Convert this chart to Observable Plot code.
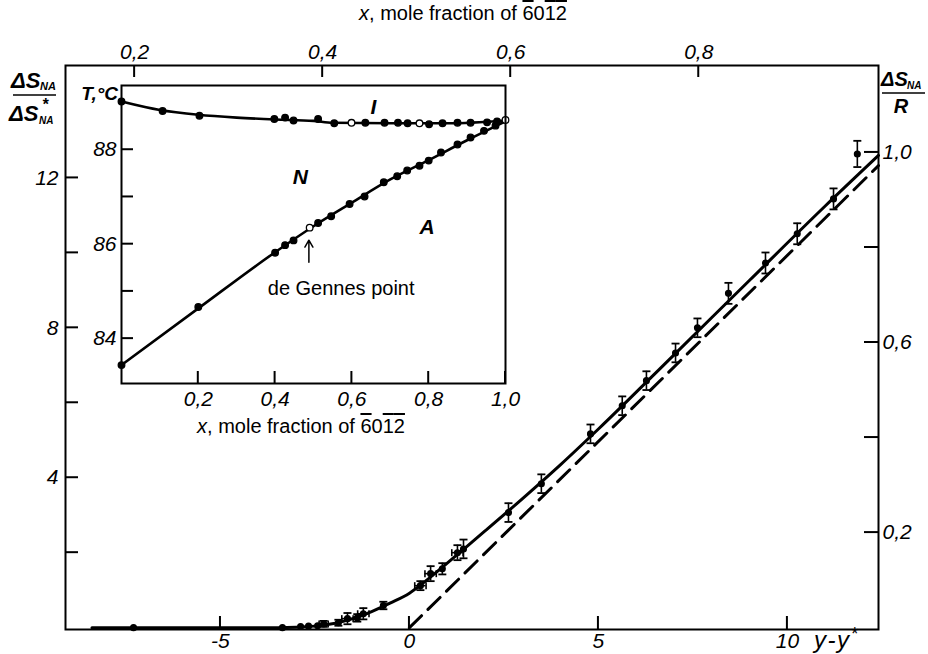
<!DOCTYPE html>
<html>
<head>
<meta charset="utf-8">
<script src="https://cdn.jsdelivr.net/npm/d3@7"></script>
<script src="https://cdn.jsdelivr.net/npm/@observablehq/plot@0.6"></script>
<style>
  body { margin: 0; background: white; }
  #wrap { position: relative; width: 928px; height: 654px; overflow: hidden; background: white; }
  #inset { position: absolute; left: 96px; top: 78px; }
</style>
</head>
<body>
<div id="wrap"><div id="main"></div><div id="inset"></div></div>
<script>
// ---------- Main chart data ----------
const bottomTicks = [-5, 0, 5, 10];
const leftTicks = [2, 4, 6, 8, 10, 12];
const leftLabels = [4, 8, 12];
const topTicks = [0.2, 0.4, 0.6, 0.8];          // mole fraction (top axis)
const rightTicks = [0.2, 0.4, 0.6, 0.8, 1.0];   // ΔS_NA / R
const rightLabels = [0.2, 0.6, 1.0];
// axis conversions
const moleAtZero = 0.4923, molePerUnit = 0.0402;  // x = moleAtZero + molePerUnit*(y-y*)
const rightFactor = 12.68;                         // ΔS/ΔS* per unit ΔS/R

// measured points (y - y*, ΔS/ΔS*), with vertical and horizontal error bars
const ptX = [-7.3, -3.36, -2.88, -2.67, -2.43, -2.27, -1.88, -1.64, -1.38, -1.22, -0.69, 0.29, 0.56, 0.87, 1.27, 1.43, 2.62, 3.49, 4.79, 5.63, 6.27, 7.04, 7.62, 8.44, 9.42, 10.26, 11.22, 11.85];
const ptY = [0, 0.0, 0.03, 0.04, 0.05, 0.1, 0.13, 0.24, 0.26, 0.37, 0.59, 1.12, 1.44, 1.57, 2.0, 2.1, 3.07, 3.84, 5.17, 5.92, 6.59, 7.33, 8.0, 8.92, 9.73, 10.51, 11.44, 12.64];
const ptErr = [0, 0, 0, 0, 0, 0.08, 0.08, 0.15, 0.1, 0.15, 0.1, 0.12, 0.2, 0.15, 0.2, 0.25, 0.25, 0.25, 0.25, 0.25, 0.25, 0.25, 0.25, 0.28, 0.28, 0.28, 0.28, 0.35];
const ptHErr = [0, 0, 0, 0, 0, 0.12, 0, 0.15, 0, 0.15, 0, 0.15, 0.15, 0, 0.15, 0, 0, 0, 0, 0, 0, 0, 0, 0, 0, 0, 0, 0];

// fitted solid curve
const curveX = [-8.4, -3.5, -2.5, -2.0, -1.5, -1.0, -0.5, 0, 0.5, 1.0, 1.5, 2.0, 3.0, 4.0, 5.0, 7.0, 9.0, 11.0, 12.41];
const curveY = [0, 0, 0.04, 0.11, 0.24, 0.43, 0.66, 0.92, 1.3, 1.72, 2.15, 2.58, 3.45, 4.35, 5.3, 7.28, 9.27, 11.25, 12.6];
// dashed asymptote
const dashX = [0, 12.41];
const dashY = [0, 12.33];

// ---------- Inset data (phase diagram) ----------
const insetXTicks = [0.2, 0.4, 0.6, 0.8, 1.0];
const insetYTicks = [84, 85, 86, 87, 88];
const insetYLabels = [84, 86, 88];
// N–I transition points
const niX = [0, 0.107, 0.203, 0.398, 0.426, 0.448, 0.512, 0.554, 0.599, 0.635, 0.685, 0.72, 0.745, 0.776, 0.801, 0.836, 0.875, 0.909, 0.952, 0.978, 1.0];
const niT = [89.02, 88.82, 88.72, 88.65, 88.68, 88.62, 88.65, 88.56, 88.57, 88.57, 88.57, 88.57, 88.56, 88.56, 88.54, 88.56, 88.57, 88.57, 88.58, 88.6, 88.63];
const niOpen = [false, false, false, false, false, false, false, false, true, false, false, false, false, true, false, false, false, false, false, false, true];
const niCurveX = [0, 0.1, 0.2, 0.3, 0.4, 0.5, 0.55, 0.7, 0.85, 1.0];
const niCurveT = [89.02, 88.84, 88.74, 88.68, 88.64, 88.61, 88.57, 88.56, 88.56, 88.62];
// N–A transition points
const naX = [0, 0.2, 0.4, 0.426, 0.448, 0.49, 0.512, 0.546, 0.594, 0.633, 0.683, 0.718, 0.744, 0.776, 0.80, 0.832, 0.875, 0.909, 0.944, 0.974];
const naT = [83.44, 84.67, 85.82, 85.98, 86.08, 86.35, 86.45, 86.59, 86.85, 87.01, 87.31, 87.44, 87.56, 87.66, 87.77, 87.94, 88.11, 88.26, 88.4, 88.51];
const naOpen = naX.map(x => x === 0.49);
const naCurveX = [0, 0.2, 0.4, 0.5, 0.6, 0.7, 0.8, 0.9, 1.0];
const naCurveT = [83.44, 84.64, 85.83, 86.38, 86.88, 87.37, 87.78, 88.2, 88.6];
// phase labels
const phaseText = ["I", "N", "A"];
const phaseX = [0.656, 0.466, 0.796];
const phaseT = [88.9, 87.41, 86.36];
// de Gennes annotation
const dgText = "de Gennes point";
const dgTextX = 0.572, dgTextT = 85.07;
const dgArrowX = 0.488, dgArrowT1 = 85.62, dgArrowT2 = 86.17;

// ---------- helpers ----------
const comma = d => d3.format(".1f")(d).replace(".", ",");
const capH = { draw(ctx) { ctx.moveTo(-4, 0); ctx.lineTo(4, 0); } };
const capV = { draw(ctx) { ctx.moveTo(0, -3.5); ctx.lineTo(0, 3.5); } };
const numFont = "'Liberation Sans Narrow', 'Liberation Sans', sans-serif";
const textFont = "'Liberation Sans', Arial, sans-serif";

// inward ticks drawn through the plot's own scales
function xTicks(plotSvg, vals, yEdge, len) {
  const sx = plotSvg.scale("x");
  const gg = d3.select(plotSvg).append("g");
  vals.forEach(v => {
    const px = sx.apply(v);
    gg.append("path").attr("d", `M${px},${yEdge}V${yEdge + len}`)
      .attr("stroke", "black").attr("stroke-width", 2).attr("fill", "none");
  });
}
function yTicks(plotSvg, vals, xEdge, len) {
  const sy = plotSvg.scale("y");
  const gg = d3.select(plotSvg).append("g");
  vals.forEach(v => {
    const py = sy.apply(v);
    gg.append("path").attr("d", `M${xEdge},${py}H${xEdge + len}`)
      .attr("stroke", "black").attr("stroke-width", 2).attr("fill", "none");
  });
}

const pts = ptX.map((x, i) => ({x, y: ptY[i], e: ptErr[i], h: ptHErr[i]}));
const vErr = pts.filter(d => d.e > 0);
const hErr = pts.filter(d => d.h > 0);
const curve = curveX.map((x, i) => ({x, y: curveY[i]}));
const dash = dashX.map((x, i) => ({x, y: dashY[i]}));
const toMain = f => (f - moleAtZero) / molePerUnit;
const toMole = v => moleAtZero + molePerUnit * v;

const W = 928, H = 654, mL = 65, mR = 50, mT = 65, mB = 25;

const main = Plot.plot({
  width: W, height: H,
  marginLeft: mL, marginRight: mR, marginTop: mT, marginBottom: mB,
  x: {domain: [-9.1, 12.41]},
  y: {domain: [-0.05, 15]},
  style: {fontFamily: numFont, fontStyle: "italic", fontSize: "21px", background: "white", color: "black"},
  marks: [
    Plot.axisX(bottomTicks, {anchor: "bottom", tickSize: 0, tickPadding: 4, tickFormat: d => d < 0 ? "-" + Math.abs(d) : String(d), label: null}),
    Plot.axisX(topTicks.map(toMain), {anchor: "top", tickSize: 0, tickPadding: 7, tickFormat: d => comma(toMole(d)), label: null}),
    Plot.axisY(leftLabels, {anchor: "left", tickSize: 0, tickPadding: 7, tickFormat: d => String(d), label: null}),
    Plot.axisY(rightLabels.map(v => v * rightFactor), {anchor: "right", tickSize: 0, tickPadding: 4, tickFormat: d => comma(d / rightFactor), label: null}),
    Plot.line(dash, {x: "x", y: "y", stroke: "black", strokeWidth: 3, strokeDasharray: "17,9"}),
    Plot.line(curve, {x: "x", y: "y", stroke: "black", strokeWidth: 3, curve: "monotone-x"}),
    Plot.ruleX(vErr, {x: "x", y1: d => d.y - d.e, y2: d => d.y + d.e, stroke: "black", strokeWidth: 1.6}),
    Plot.dot(vErr, {x: "x", y: d => d.y + d.e, symbol: capH, stroke: "black", strokeWidth: 1.8, fill: "none"}),
    Plot.dot(vErr, {x: "x", y: d => d.y - d.e, symbol: capH, stroke: "black", strokeWidth: 1.8, fill: "none"}),
    Plot.ruleY(hErr, {y: "y", x1: d => d.x - d.h, x2: d => d.x + d.h, stroke: "black", strokeWidth: 1.6}),
    Plot.dot(hErr, {x: d => d.x - d.h, y: "y", symbol: capV, stroke: "black", strokeWidth: 1.6, fill: "none"}),
    Plot.dot(hErr, {x: d => d.x + d.h, y: "y", symbol: capV, stroke: "black", strokeWidth: 1.6, fill: "none"}),
    Plot.dot(pts, {x: "x", y: "y", r: 2.8, fill: "black", stroke: "black"}),
    Plot.frame({stroke: "black", strokeWidth: 2})
  ]
});
document.getElementById("main").appendChild(main);
xTicks(main, bottomTicks, H - mB, -13);
xTicks(main, topTicks.map(toMain), mT, 12);
yTicks(main, leftTicks, mL, 13);
yTicks(main, rightTicks.map(v => v * rightFactor), W - mR, -14);

// extra labels on main svg
const svg = d3.select(main);
const g = svg.append("g").attr("fill", "black");
function addText(x, y, str, opts = {}) {
  return g.append("text").attr("x", x).attr("y", y).text(str)
    .attr("font-family", opts.family || numFont)
    .attr("font-style", opts.style || "italic")
    .attr("font-weight", opts.weight || "bold")
    .attr("font-size", opts.size || 22)
    .attr("text-anchor", opts.anchor || "start");
}
// left label ΔS_NA / ΔS*_NA
addText(11, 88, "ΔS", {family: textFont, size: 22});
addText(40, 90, "NA", {family: textFont, size: 11});
g.append("line").attr("x1", 13).attr("x2", 56).attr("y1", 95).attr("y2", 95).attr("stroke", "black").attr("stroke-width", 1.6);
addText(9, 121, "ΔS", {family: textFont, size: 22});
addText(42, 110, "*", {family: textFont, size: 16});
addText(39, 124, "NA", {family: textFont, size: 10});
// right label ΔS_NA / R
addText(881, 86, "ΔS", {family: textFont, size: 20});
addText(907, 89, "NA", {family: textFont, size: 10});
g.append("line").attr("x1", 882).attr("x2", 925).attr("y1", 93).attr("y2", 93).attr("stroke", "black").attr("stroke-width", 1.6);
addText(901, 113, "R", {family: textFont, size: 20, anchor: "middle"});
// bottom label y-y*
const yl = addText(814, 648, "y-y", {family: numFont, size: 24, weight: "normal"}).attr("letter-spacing", 1.5);
yl.append("tspan").attr("dy", -8).attr("font-size", 18).text("*");
// mole-fraction title (regular sans, x in italic)
function moleTitle(parent, x, y) {
  const t = parent.append("text").attr("x", x).attr("y", y)
    .attr("font-family", textFont).attr("font-style", "normal").attr("font-weight", "normal")
    .attr("font-size", 20).attr("text-anchor", "middle").attr("fill", "black");
  t.append("tspan").attr("font-style", "italic").text("x");
  t.append("tspan").text(", mole fraction of ");
  t.append("tspan").attr("style", "text-decoration: overline").text("6");
  t.append("tspan").text("0");
  t.append("tspan").attr("style", "text-decoration: overline").text("1");
  t.append("tspan").attr("style", "text-decoration: overline").text("2");
  return t;
}
moleTitle(g, 463, 20);

// ---------- Inset ----------
const ni = niX.map((x, i) => ({x, t: niT[i], open: niOpen[i]}));
const na = naX.map((x, i) => ({x, t: naT[i], open: naOpen[i]}));
const niCurve = niCurveX.map((x, i) => ({x, t: niCurveT[i]}));
const naCurve = naCurveX.map((x, i) => ({x, t: naCurveT[i]}));
const phases = phaseText.map((s, i) => ({s, x: phaseX[i], t: phaseT[i]}));
const allDots = ni.concat(na);

const iW = 421, iH = 360, imL = 25, imR = 12, imT = 7, imB = 55;

const inset = Plot.plot({
  width: iW, height: iH,
  marginLeft: imL, marginRight: imR, marginTop: imT, marginBottom: imB,
  x: {domain: [0, 1]},
  y: {domain: [83.05, 89.36]},
  style: {fontFamily: numFont, fontStyle: "italic", fontSize: "21px", background: "white", color: "black", overflow: "visible"},
  marks: [
    Plot.axisX(insetXTicks, {anchor: "bottom", tickSize: 0, tickPadding: 8, tickFormat: comma, label: null}),
    Plot.axisY(insetYLabels, {anchor: "left", tickSize: 0, tickPadding: 5, tickFormat: d => String(d), label: null}),
    Plot.line(niCurve, {x: "x", y: "t", stroke: "black", strokeWidth: 2.6, curve: "monotone-x"}),
    Plot.line(naCurve, {x: "x", y: "t", stroke: "black", strokeWidth: 2.6, curve: "monotone-x"}),
    Plot.dot(allDots, {x: "x", y: "t", r: 3.3, fill: d => d.open ? "white" : "black", stroke: "black", strokeWidth: 1.3}),
    Plot.text(phases, {x: "x", y: "t", text: "s", fontSize: 21, fontWeight: "bold", fontStyle: "italic"}),
    Plot.arrow([{x: dgArrowX, t1: dgArrowT1, t2: dgArrowT2}], {x1: "x", y1: "t1", x2: "x", y2: "t2", stroke: "black", strokeWidth: 1.5, headLength: 8, insetEnd: 4}),
    Plot.text([{s: dgText, x: dgTextX, t: dgTextT}], {x: "x", y: "t", text: "s", fontFamily: textFont, fontStyle: "normal", fontSize: 20}),
    Plot.frame({stroke: "black", strokeWidth: 2})
  ]
});
document.getElementById("inset").appendChild(inset);
xTicks(inset, insetXTicks, iH - imB, -12);
yTicks(inset, insetYTicks, imL, 12);
const gi = d3.select(inset).append("g").attr("fill", "black");
gi.append("text").attr("x", 22).attr("y", 22).attr("text-anchor", "end")
  .attr("font-family", numFont).attr("font-style", "italic").attr("font-size", 19).attr("font-weight", "bold").text("T,°C");
moleTitle(gi, 205, 355);
</script>
</body>
</html>
